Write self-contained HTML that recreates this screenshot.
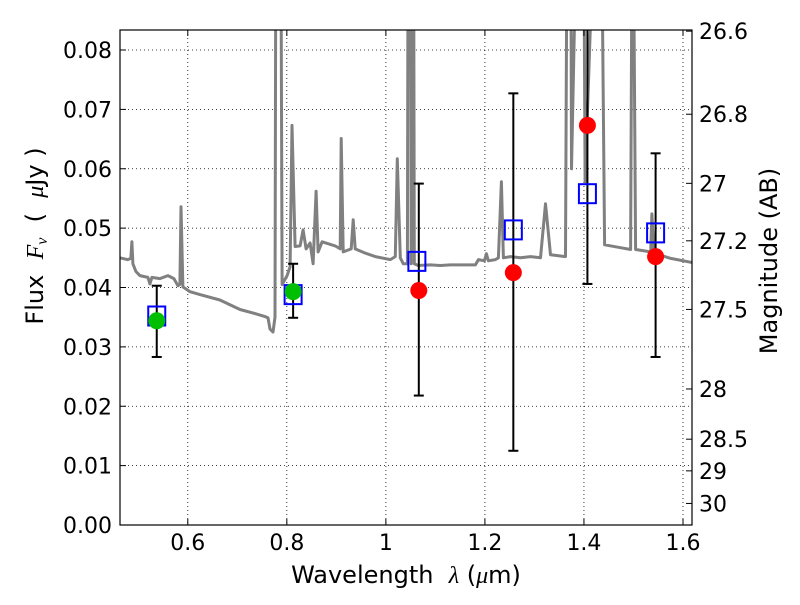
<!DOCTYPE html>
<html><head><meta charset="utf-8"><style>
html,body{margin:0;padding:0;background:#fff}
text{font-family:"DejaVu Sans","Liberation Sans",sans-serif;fill:#000}
.m{font-family:"Liberation Serif","DejaVu Serif",serif;font-style:italic}
</style></head><body>
<svg id="chart" width="800" height="600" xmlns="http://www.w3.org/2000/svg">
<rect x="0" y="0" width="800" height="600" fill="#fff"/>
<g id="grid"></g>
<defs><clipPath id="clip"><rect x="120" y="30" width="572" height="495"/></clipPath></defs>
<g id="plot" clip-path="url(#clip)"></g>
<rect x="120" y="30" width="572" height="495" fill="none" stroke="#000" stroke-width="1.2"/>
<g id="axes"></g>
<text x="406" y="583" font-size="24" text-anchor="middle" xml:space="preserve">Wavelength  <tspan class="m">λ</tspan> (<tspan class="m">μ</tspan>m)</text>
<text transform="translate(43,236) rotate(-90)" font-size="24" text-anchor="middle" xml:space="preserve">Flux  <tspan class="m">F</tspan><tspan class="m" font-size="16" dy="4">ν</tspan><tspan dy="-4">  (  </tspan><tspan class="m">μ</tspan>Jy )</text>
<text transform="translate(777,261) rotate(-90)" font-size="24" text-anchor="middle">Magnitude (AB)</text>
</svg>
<script>
const xTicks=[0.6,0.8,1,1.2,1.4,1.6];
const xTickLabels=["0.6","0.8","1","1.2","1.4","1.6"];
const yTicks=[0,0.01,0.02,0.03,0.04,0.05,0.06,0.07,0.08];
const yTickLabels=["0.00","0.01","0.02","0.03","0.04","0.05","0.06","0.07","0.08"];
const magTicks=[26.6,26.8,27,27.2,27.5,28,28.5,29,30];
const magTickLabels=["26.6","26.8","27","27.2","27.5","28","28.5","29","30"];
const specWl=[0.4625,0.4789,0.4850,0.4871,0.4891,0.4952,0.5033,0.5195,0.5235,0.5276,0.5437,0.5599,0.5720,0.5801,0.5841,0.5862,0.5902,0.6044,0.6245,0.6649,0.7055,0.7357,0.7559,0.7620,0.7660,0.7721,0.7762,0.7783,0.7873,0.7904,0.8005,0.8065,0.8105,0.8166,0.8268,0.8329,0.8389,0.8470,0.8531,0.8592,0.8632,0.8713,0.8976,0.9077,0.9098,0.9138,0.9299,0.9340,0.9380,0.9583,0.9786,1.0089,1.0191,1.0231,1.0291,1.0352,1.0434,1.0453,1.0493,1.0512,1.0532,1.0555,1.0574,1.0650,1.0898,1.1101,1.1302,1.1808,1.1869,1.1990,1.2030,1.2070,1.2212,1.2273,1.2333,1.2373,1.2515,1.2718,1.2920,1.3122,1.3224,1.3325,1.3628,1.3668,1.3729,1.3749,1.3896,1.3985,1.4024,1.4275,1.4336,1.4417,1.4741,1.4943,1.4983,1.5044,1.5347,1.5373,1.5413,1.5752,1.6195];
const specFlux=[0.0450,0.0447,0.0449,0.0477,0.0440,0.0427,0.0420,0.0417,0.0406,0.0417,0.0415,0.0420,0.0415,0.0403,0.0405,0.0536,0.0401,0.0393,0.0388,0.0379,0.0363,0.0356,0.0351,0.0349,0.0330,0.0325,0.0350,0.12,0.12,0.0405,0.0420,0.0435,0.0673,0.0469,0.0470,0.0497,0.0465,0.0475,0.0440,0.0562,0.0460,0.0477,0.0470,0.0465,0.0651,0.0460,0.0465,0.0514,0.0465,0.0458,0.0452,0.0447,0.0452,0.0617,0.0450,0.0440,0.0440,0.12,0.12,0.0440,0.12,0.12,0.0440,0.0437,0.0438,0.0437,0.0438,0.0438,0.0447,0.0445,0.0457,0.0445,0.0447,0.0450,0.0578,0.0450,0.0452,0.0450,0.0452,0.0450,0.0541,0.0455,0.0452,0.12,0.12,0.0600,0.12,0.12,0.0578,0.12,0.12,0.0472,0.0467,0.0464,0.12,0.0464,0.0460,0.0524,0.0458,0.0449,0.0442];
const modelWl=[0.5373,0.8127,1.0626,1.2574,1.4070,1.5447];
const modelFlux=[0.0352,0.0388,0.0444,0.0497,0.0558,0.0492];
const greenWl=[0.5373,0.8127];
const greenFlux=[0.0344,0.0393];
const redWl=[1.0665,1.2574,1.4070,1.5447];
const redFlux=[0.0395,0.0425,0.0673,0.0452];
const errWl=[0.5373,0.8127,1.0665,1.2574,1.4070,1.5447];
const errLo=[0.0283,0.0349,0.0218,0.0125,0.0406,0.0283];
const errHi=[0.0403,0.0440,0.0575,0.0727,0.0950,0.0626];

const NS='http://www.w3.org/2000/svg';
const X0=120,X1=692,Y0=525,Y1=30,XMIN=0.4631,XMAX=1.6182,YMIN=0,YMAX=0.08337;
function sx(v){return X0+(v-XMIN)/(XMAX-XMIN)*(X1-X0);}
function sy(v){return Y0-(v-YMIN)/(YMAX-YMIN)*(Y0-Y1);}
function magToFlux(m){return Math.pow(10,(23.9-m)/2.5);}
function mk(tag,attrs,parent){const e=document.createElementNS(NS,tag);for(const k in attrs)e.setAttribute(k,attrs[k]);parent.appendChild(e);return e;}
const grid=document.getElementById('grid'),plot=document.getElementById('plot'),axes=document.getElementById('axes');

xTicks.forEach((t,i)=>{
  const x=sx(t);
  const g=mk('line',{x1:x,x2:x,y1:Y1,y2:Y0,stroke:'#000','stroke-width':0.8,'stroke-dasharray':'1,3'},grid);
  
  
  const a=mk('line',{x1:x,x2:x,y1:Y0,y2:Y0-6,stroke:'#000'},axes);
  
  
  const b=mk('line',{x1:x,x2:x,y1:Y1,y2:Y1+6,stroke:'#000'},axes);
  
  
  const l=mk('text',{x:x,y:550,'font-size':22,'text-anchor':'middle'},axes);
  l.textContent=xTickLabels[i];
  
  
});
yTicks.forEach((t,i)=>{
  const y=sy(t);
  const g=mk('line',{x1:X0,x2:X1,y1:y,y2:y,stroke:'#000','stroke-width':0.8,'stroke-dasharray':'1,3'},grid);
  
  
  const a=mk('line',{x1:X0,x2:X0+6,y1:y,y2:y,stroke:'#000'},axes);
  
  
  const l=mk('text',{x:112,y:y+8,'font-size':22,'text-anchor':'end'},axes);
  l.textContent=yTickLabels[i];
  
  
});
magTicks.forEach((m,i)=>{
  const y=sy(magToFlux(m));
  const a=mk('line',{x1:X1,x2:X1-6,y1:y,y2:y,stroke:'#000'},axes);
  
  
  const l=mk('text',{x:699,y:y+8,'font-size':22,'text-anchor':'start'},axes);
  l.textContent=magTickLabels[i];
  
  
});

const pts=specWl.map((w,i)=>sx(w).toFixed(1)+','+sy(specFlux[i]).toFixed(1)).join(' ');
const sp=mk('polyline',{points:pts,fill:'none',stroke:'#808080','stroke-width':3,'stroke-linejoin':'round'},plot);



errWl.forEach((w,i)=>{
  const x=sx(w),y1=sy(errLo[i]),y2=sy(errHi[i]);
  const g=mk('g',{},plot);
  
  
  mk('line',{x1:x,x2:x,y1:y1,y2:y2,stroke:'#000','stroke-width':2},g);
  mk('line',{x1:x-5,x2:x+5,y1:y1,y2:y1,stroke:'#000','stroke-width':2},g);
  mk('line',{x1:x-5,x2:x+5,y1:y2,y2:y2,stroke:'#000','stroke-width':2},g);
});
modelWl.forEach((w,i)=>{
  const r=mk('rect',{x:sx(w)-8.5,y:sy(modelFlux[i])-9.5,width:17,height:19,fill:'none',stroke:'#0000ff','stroke-width':2},plot);
  
  
});
greenWl.forEach((w,i)=>{
  const c=mk('circle',{cx:sx(w),cy:sy(greenFlux[i]),r:8.5,fill:'#00bf00'},plot);
  
  
});
redWl.forEach((w,i)=>{
  const c=mk('circle',{cx:sx(w),cy:sy(redFlux[i]),r:8.5,fill:'#ff0000'},plot);
  
  
});
</script>
</body></html>
